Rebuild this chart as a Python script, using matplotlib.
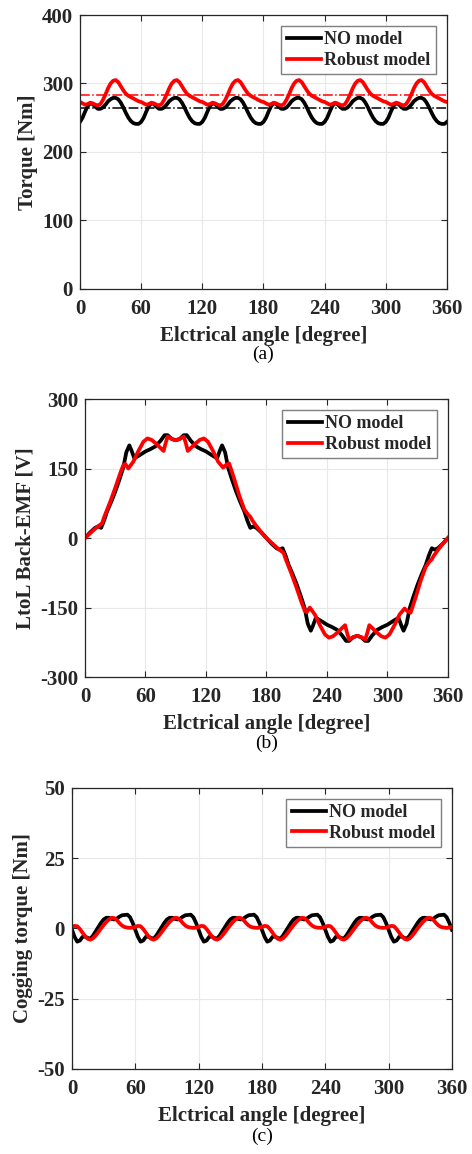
import numpy as np
import matplotlib
matplotlib.use("Agg")
import matplotlib.pyplot as plt

plt.rcParams['font.family'] = ['Liberation Serif', 'DejaVu Serif']
plt.rcParams['font.weight'] = 'bold'
plt.rcParams['axes.labelweight'] = 'bold'
plt.rcParams['axes.unicode_minus'] = False

# ---- (a) torque: one 60 deg period, read every 2.5 deg ----
period_ang = [0, 2.5, 5, 7.5, 10, 12.5, 15, 17.5, 20, 22.5, 25, 27.5, 30,
              32.5, 35, 37.5, 40, 42.5, 45, 47.5, 50, 52.5, 55, 57.5]
torque_no = [244, 250, 259, 267, 271, 270, 266, 263, 263, 265, 269, 274, 277,
             279, 279, 277, 272, 265, 257, 250, 245, 242, 241, 241]
torque_rob = [273, 271, 269, 270, 272, 271, 269, 268, 270, 276, 284, 293, 300,
              304, 305, 302, 296, 290, 285, 282, 280, 278, 276, 274]
torque_no_avg = 264
torque_rob_avg = 283

# ---- (b) line-to-line back-EMF ----
emf_no_ang = [0, 5, 10, 13, 16, 19, 22, 26, 30, 34, 38, 41, 44, 46, 49, 55, 60, 65,
              70, 75, 79, 82, 86, 90, 94, 98, 101, 105, 110, 115, 120, 125, 131,
              134, 136, 139, 142, 146, 150, 154, 158, 161, 164, 167, 170, 175,
              180, 185, 190, 193, 196, 199, 202, 206, 210, 214, 218, 221, 224,
              226, 229, 235, 240, 245, 250, 255, 259, 262, 266, 270, 274, 278,
              281, 285, 290, 295, 300, 305, 311, 314, 316, 319, 322, 326, 330,
              334, 338, 341, 344, 347, 350, 355, 360]
emf_no = [0, 12, 22, 25, 22, 38, 58, 78, 100, 125, 152, 185, 200, 190, 172, 180,
          187, 192, 198, 210, 222, 222, 214, 211, 214, 222, 222, 210, 198, 192,
          187, 180, 172, 190, 200, 185, 152, 125, 100, 78, 58, 38, 22, 25, 22,
          12, 0, -12, -22, -25, -22, -38, -58, -78, -100, -125, -152, -185,
          -200, -190, -172, -180, -187, -192, -198, -210, -222, -222, -214,
          -211, -214, -222, -222, -210, -198, -192, -187, -180, -172, -190,
          -200, -185, -152, -125, -100, -78, -58, -38, -22, -25, -22, -12, 0]

emf_rob_ang = [0, 5, 10, 14, 17, 19, 21, 25, 30, 35, 38, 40, 43, 48, 53, 58, 62,
               66, 71, 76, 78, 80, 82, 86, 90, 94, 98, 100, 102, 104, 109, 114,
               118, 122, 127, 132, 137, 140, 143, 148, 153, 158, 162, 164, 166,
               170, 175, 180, 185, 190, 194, 197, 199, 201, 205, 210, 215, 218,
               220, 223, 228, 233, 238, 242, 246, 251, 256, 258, 260, 262, 266,
               270, 274, 278, 280, 282, 284, 289, 294, 298, 302, 307, 312, 317,
               320, 323, 328, 333, 338, 342, 344, 346, 350, 355, 360]
emf_rob = [0, 10, 20, 27, 32, 45, 56, 78, 108, 140, 157, 160, 150, 165, 188, 208,
           215, 212, 203, 192, 188, 205, 219, 214, 211, 214, 219, 205, 188, 192,
           203, 212, 215, 208, 188, 165, 152, 158, 161, 128, 92, 62, 50, 46, 38,
           26, 12, 0, -10, -20, -27, -32, -45, -56, -78, -108, -140, -157, -160,
           -150, -165, -188, -208, -215, -212, -203, -192, -188, -205, -219,
           -214, -211, -214, -219, -205, -188, -192, -203, -212, -215, -208,
           -188, -165, -152, -158, -161, -128, -92, -62, -50, -46, -38, -26,
           -12, 0]

# ---- (c) cogging torque: one 60 deg period ----
cog_no = [-0.5, -3.0, -4.7, -4.3, -3.0, -2.9, -3.4, -3.6, -2.5, -1.0, 0.5, 2.0,
          3.2, 3.8, 3.8, 3.4, 3.2, 3.5, 4.2, 4.7, 4.8, 4.9, 4.0, 2.0]
cog_rob = [0.6, 0.9, 0.8, -0.2, -1.5, -2.8, -3.7, -4.0, -3.5, -2.5, -1.3, 0.0,
           1.2, 2.3, 3.2, 3.8, 3.7, 3.0, 1.9, 1.0, 0.5, 0.3, 0.2, 0.3]

n_periods = 6
ang_rep = np.concatenate([np.array(period_ang) + 60 * k for k in range(n_periods)] + [[360]])


def repeat(vals):
    return np.append(np.tile(vals, n_periods), vals[0])


txt = '#262626'
lw = 2.7
fig = plt.figure(figsize=(4.72, 11.54), dpi=100)
axes_pos = [[0.1695, 0.7496, 0.7775, 0.2374],
            [0.180, 0.4133, 0.769, 0.2409],
            [0.1525, 0.0737, 0.805, 0.2435]]
axs = [fig.add_axes(p) for p in axes_pos]

ax = axs[0]
ax.plot(ang_rep, repeat(torque_no), color='black', lw=lw, label='NO model')
ax.plot(ang_rep, repeat(torque_rob), color='red', lw=lw, label='Robust model')
ax.axhline(torque_no_avg, color='black', lw=1.1, ls='-.')
ax.axhline(torque_rob_avg, color='red', lw=1.1, ls='-.')
ax.set_ylim(0, 400)
ax.set_yticks([0, 100, 200, 300, 400])
ax.set_ylabel('Torque [Nm]')

ax = axs[1]
ax.plot(emf_no_ang, emf_no, color='black', lw=lw, label='NO model')
ax.plot(emf_rob_ang, emf_rob, color='red', lw=lw, label='Robust model')
ax.set_ylim(-300, 300)
ax.set_yticks([-300, -150, 0, 150, 300])
ax.set_ylabel('LtoL Back-EMF [V]')

ax = axs[2]
ax.plot(ang_rep, repeat(cog_no), color='black', lw=lw, label='NO model')
ax.plot(ang_rep, repeat(cog_rob), color='red', lw=lw, label='Robust model')
ax.set_ylim(-50, 50)
ax.set_yticks([-50, -25, 0, 25, 50])
ax.set_ylabel('Cogging torque [Nm]')

for ax, tag in zip(axs, ['(a)', '(b)', '(c)']):
    ax.set_xlim(0, 360)
    ax.set_xticks(np.arange(0, 361, 60))
    ax.grid(True, color='#e8e8e8', lw=0.8)
    ax.set_axisbelow(True)
    ax.tick_params(direction='in', top=True, right=True, labelsize=15,
                   colors=txt, length=4, width=0.8)
    ax.tick_params(axis='x', pad=7)
    ax.tick_params(axis='y', pad=5)
    for s in ax.spines.values():
        s.set_color(txt)
        s.set_linewidth(0.9)
    ax.set_xlabel('Elctrical angle [degree]', fontsize=15, color=txt, labelpad=5)
    ax.yaxis.label.set_size(15)
    ax.yaxis.label.set_color(txt)
    ax.yaxis.labelpad = 3
    leg = ax.legend(loc='upper right', fontsize=13, handlelength=1.9,
                    handletextpad=0.2, borderpad=0.3, labelspacing=0.2,
                    fancybox=False, framealpha=1, edgecolor='#7f7f7f',
                    borderaxespad=0.6)
    leg.get_frame().set_linewidth(1.0)
    for t in leg.get_texts():
        t.set_color(txt)
    ax.text(0.5, -0.24, tag, transform=ax.transAxes, ha='center', va='center',
            fontsize=14, fontweight='normal', color='black')

fig.savefig('out.png', dpi=100)
